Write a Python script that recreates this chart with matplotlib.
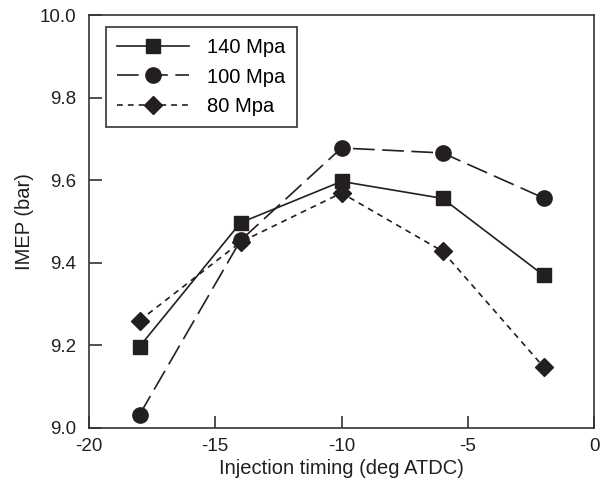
import matplotlib
matplotlib.use("Agg")
import matplotlib.pyplot as plt

plt.rcParams['font.family'] = ['Liberation Sans', 'DejaVu Sans']
plt.rcParams['axes.unicode_minus'] = False

timing = [-18, -14, -10, -6, -2]
imep_140 = [9.197, 9.497, 9.597, 9.556, 9.370]
imep_100 = [9.032, 9.454, 9.678, 9.666, 9.557]
imep_80 = [9.260, 9.450, 9.569, 9.428, 9.148]
labels = ["140 Mpa", "100 Mpa", "80 Mpa"]
xticks = [-20, -15, -10, -5, 0]
yticks = [9.0, 9.2, 9.4, 9.6, 9.8, 10.0]

c = "#231f20"
fig = plt.figure(figsize=(6.08, 4.84), dpi=100)
ax = fig.add_axes([89/608, 1-428/484, (594-89)/608, (428-15)/484])

ax.plot(timing, imep_140, color=c, lw=1.2, ls='-', marker='s', ms=10, label=labels[0])
ax.plot(timing, imep_100, color=c, lw=1.2, ls=(0, (13, 4.5)), marker='o', ms=11, label=labels[1])
ax.plot(timing, imep_80, color=c, lw=1.2, ls=(0, (3.5, 3)), marker='D', ms=9.5, label=labels[2])

ax.set_xlim(-20, 0)
ax.set_ylim(9.0, 10.0)
ax.set_xticks(xticks)
ax.set_yticks(yticks)
ax.set_yticklabels([f"{v:.1f}" for v in yticks])
ax.tick_params(direction='in', length=9, width=1.1, labelsize=13.5, colors=c)
ax.tick_params(axis='x', pad=7)
ax.tick_params(axis='y', pad=9)
for s in ax.spines.values():
    s.set_color("#333333")
    s.set_linewidth(1.2)

ax.set_xlabel("Injection timing (deg ATDC)", fontsize=14.5, color=c, labelpad=3)
ax.set_ylabel("IMEP (bar)", fontsize=14.5, color=c, labelpad=4)

leg = ax.legend(loc='upper left', bbox_to_anchor=(0.033, 0.971), fontsize=14.5,
                handlelength=3.6, handletextpad=0.9, labelspacing=0.52,
                borderpad=0.55, borderaxespad=0, fancybox=False, framealpha=1)
leg.get_frame().set_edgecolor("#333333")
leg.get_frame().set_linewidth(1.2)

fig.savefig("out.png", dpi=100)
